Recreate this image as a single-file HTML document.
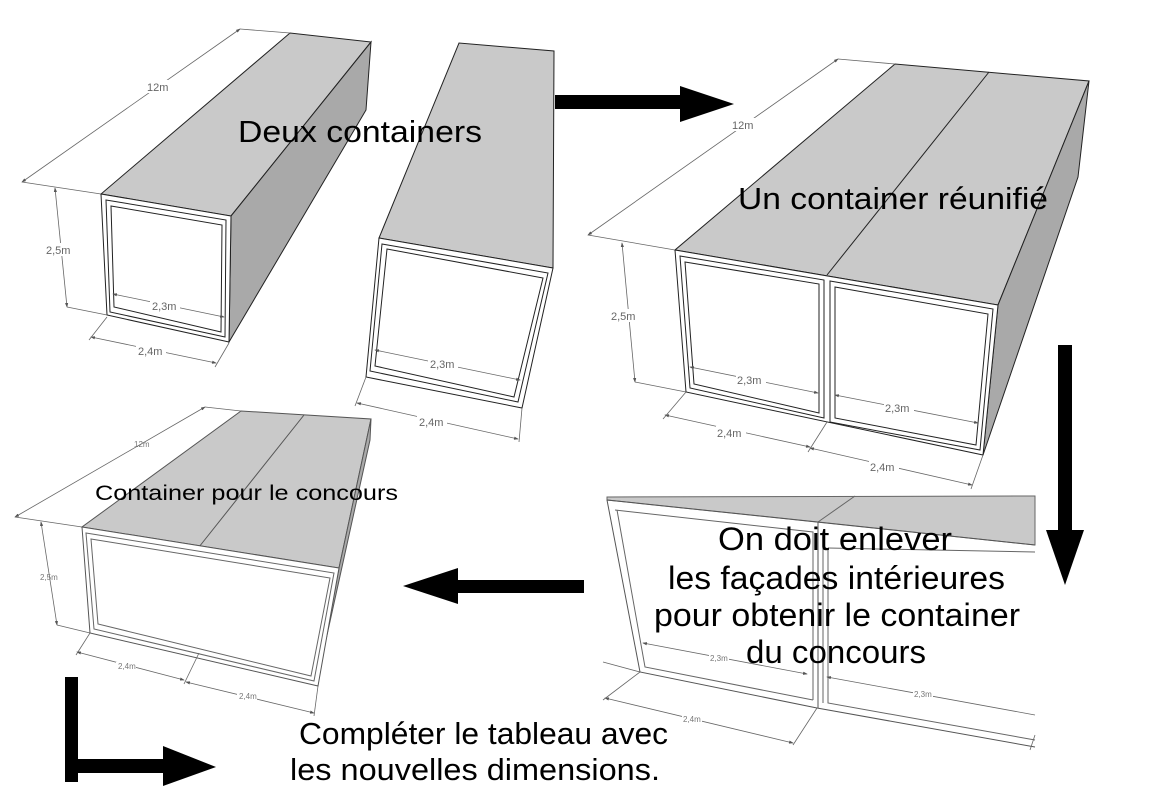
<!DOCTYPE html>
<html><head><meta charset="utf-8"><style>
html,body{margin:0;padding:0;background:#fff;}
svg{display:block;}
.t{font-family:"Liberation Sans",Arial,sans-serif;fill:#000;}
.d{font-family:"Liberation Sans",Arial,sans-serif;fill:#666;font-size:11px;}
.ds{font-family:"Liberation Sans",Arial,sans-serif;fill:#777;font-size:8px;}
</style></head><body>
<svg width="1163" height="796" viewBox="0 0 1163 796" xmlns="http://www.w3.org/2000/svg">
<defs>
<marker id="a" markerWidth="6" markerHeight="6" refX="5" refY="3" orient="auto-start-reverse"><path d="M0,1 L6,3 L0,5 z" fill="#555"/></marker>
</defs>
<g stroke="#222" stroke-width="1">
<polygon points="101,194 231,216 371,42 290,33" fill="#c9c9c9"/>
<polygon points="231,216 371,42 366,110 229,342" fill="#a9a9a9"/>
<polygon points="101,194 231,216 229,342 107,315" fill="#fff"/>
<polygon points="106,200 226,220 225,337 110,312" fill="none"/>
<polygon points="111,206 222,225 221,332 114,307" fill="none"/>
<polygon points="379,238 553,268 554,51 459,43" fill="#c9c9c9"/>
<polygon points="379,238 553,268 522,408 366,377" fill="#fff"/>
<polygon points="382,244 548,273 518,402 370,371" fill="none"/>
<polygon points="387,249 543,278 514,397 375,366" fill="none"/>
<polygon points="675,250 998,305 1089,81 895,64" fill="#c9c9c9"/>
<line x1="827" y1="275" x2="989" y2="72"/>
<polygon points="998,305 1089,81 1078,177 983,455" fill="#a9a9a9"/>
<polygon points="675,250 998,305 983,455 686,392" fill="#fff"/>
<polygon points="680,256 824,280 824,418 690,388" fill="none"/>
<polygon points="685,262 819,284 819,413 694,384" fill="none"/>
<polygon points="830,281 993,309 980,450 830,422" fill="none"/>
<polygon points="835,287 988,314 976,445 835,418" fill="none"/>
<polygon points="82,527 339,568 371,419 241,411" fill="#c9c9c9" stroke="#555"/>
<line x1="199" y1="547" x2="304" y2="415" stroke="#555"/>
<polygon points="339,568 371,419 370,440 316,685" fill="#aaa" stroke="#555"/>
<polygon points="82,527 339,568 318,686 90,633" fill="#fff" stroke="#555"/>
<polygon points="86,533 334,573 314,681 94,629" fill="none" stroke="#666"/>
<polygon points="91,539 330,578 311,676 98,624" fill="none" stroke="#666"/>
<polygon points="607,497 1035,496 1035,545 818,522 607,500" fill="#c9c9c9" stroke="#666"/>
<line x1="818" y1="522" x2="855" y2="496" stroke="#666"/>
<polyline points="607,500 640,672 817,708 1035,747" fill="none" stroke="#555"/>
<polyline points="617,510 645,667 813,700" fill="none" stroke="#666"/>
<polyline points="615,510 813,532 813,700" fill="none" stroke="#666"/>
<line x1="607" y1="500" x2="1035" y2="545" stroke="#555"/>
<line x1="818" y1="522" x2="818" y2="708" stroke="#555"/>
<line x1="823" y1="540" x2="823" y2="703" stroke="#666"/>
<polyline points="828,548 1035,552" fill="none" stroke="#666"/>
<polyline points="828,548 828,703 1035,740" fill="none" stroke="#666"/>
</g>
<g stroke="#666" stroke-width="0.8" fill="none">
<line x1="22" y1="182" x2="240" y2="29" marker-start="url(#a)" marker-end="url(#a)"/>
<line x1="240" y1="29" x2="290" y2="33"/><line x1="22" y1="182" x2="101" y2="194"/>
<line x1="55" y1="188" x2="67" y2="307" marker-start="url(#a)" marker-end="url(#a)"/>
<line x1="67" y1="307" x2="107" y2="315"/>
<line x1="113" y1="294" x2="224" y2="317" marker-start="url(#a)" marker-end="url(#a)"/>
<line x1="91" y1="337" x2="216" y2="363" marker-start="url(#a)" marker-end="url(#a)"/>
<line x1="107" y1="317" x2="89" y2="340"/><line x1="229" y1="343" x2="215" y2="367"/>
<line x1="375" y1="350" x2="520" y2="380" marker-start="url(#a)" marker-end="url(#a)"/>
<line x1="357" y1="403" x2="518" y2="439" marker-start="url(#a)" marker-end="url(#a)"/>
<line x1="366" y1="377" x2="355" y2="406"/><line x1="522" y1="408" x2="519" y2="442"/>
<line x1="588" y1="235" x2="838" y2="59" marker-start="url(#a)" marker-end="url(#a)"/>
<line x1="838" y1="59" x2="895" y2="64"/><line x1="588" y1="235" x2="675" y2="250"/>
<line x1="622" y1="243" x2="635" y2="382" marker-start="url(#a)" marker-end="url(#a)"/>
<line x1="635" y1="382" x2="686" y2="392"/>
<line x1="690" y1="367" x2="818" y2="393" marker-start="url(#a)" marker-end="url(#a)"/>
<line x1="835" y1="395" x2="978" y2="423" marker-start="url(#a)" marker-end="url(#a)"/>
<line x1="665" y1="415" x2="810" y2="447" marker-start="url(#a)" marker-end="url(#a)"/>
<line x1="810" y1="448" x2="972" y2="485" marker-start="url(#a)" marker-end="url(#a)"/>
<line x1="686" y1="392" x2="663" y2="419"/><line x1="827" y1="422" x2="808" y2="452"/>
<line x1="983" y1="455" x2="971" y2="489"/>
<line x1="15" y1="517" x2="205" y2="407" marker-start="url(#a)" marker-end="url(#a)"/>
<line x1="205" y1="407" x2="241" y2="411"/><line x1="15" y1="517" x2="82" y2="527"/>
<line x1="41" y1="522" x2="57" y2="625" marker-start="url(#a)" marker-end="url(#a)"/>
<line x1="57" y1="625" x2="90" y2="633"/>
<line x1="77" y1="652" x2="184" y2="680" marker-start="url(#a)" marker-end="url(#a)"/>
<line x1="186" y1="682" x2="314" y2="713" marker-start="url(#a)" marker-end="url(#a)"/>
<line x1="90" y1="633" x2="76" y2="655"/><line x1="199" y1="653" x2="184" y2="684"/>
<line x1="318" y1="686" x2="314" y2="716"/>
<line x1="643" y1="643" x2="807" y2="674" marker-start="url(#a)" marker-end="url(#a)"/>
<line x1="827" y1="677" x2="1035" y2="715" marker-start="url(#a)"/>
<line x1="605" y1="698" x2="793" y2="743" marker-start="url(#a)" marker-end="url(#a)"/>
<line x1="640" y1="672" x2="603" y2="700"/><line x1="817" y1="708" x2="793" y2="745"/>
<line x1="603" y1="662" x2="640" y2="672"/>
<line x1="1035" y1="735" x2="1030" y2="750"/>
</g>
<g>
<rect x="145" y="80" width="26" height="13" fill="#fff"/><text class="d" x="147" y="91">12m</text>
<rect x="45" y="243" width="26" height="13" fill="#fff"/><text class="d" x="46" y="254">2,5m</text>
<rect x="150" y="299" width="30" height="13" fill="#fff"/><text class="d" x="152" y="310">2,3m</text>
<rect x="136" y="344" width="30" height="13" fill="#fff"/><text class="d" x="138" y="355">2,4m</text>
<rect x="428" y="357" width="30" height="13" fill="#fff"/><text class="d" x="430" y="368">2,3m</text>
<rect x="417" y="415" width="30" height="13" fill="#fff"/><text class="d" x="419" y="426">2,4m</text>
<rect x="730" y="118" width="28" height="13" fill="#fff"/><text class="d" x="732" y="129">12m</text>
<rect x="610" y="309" width="30" height="13" fill="#fff"/><text class="d" x="611" y="320">2,5m</text>
<rect x="736" y="373" width="30" height="13" fill="#fff"/><text class="d" x="737" y="384">2,3m</text>
<rect x="884" y="401" width="30" height="13" fill="#fff"/><text class="d" x="885" y="412">2,3m</text>
<rect x="716" y="426" width="30" height="13" fill="#fff"/><text class="d" x="717" y="437">2,4m</text>
<rect x="869" y="460" width="30" height="13" fill="#fff"/><text class="d" x="870" y="471">2,4m</text>
<text class="ds" x="134" y="447">12m</text>
<text class="ds" x="40" y="580">2,5m</text>
<rect x="116" y="662" width="20" height="9" fill="#fff"/><text class="ds" x="118" y="669">2,4m</text>
<rect x="237" y="692" width="20" height="9" fill="#fff"/><text class="ds" x="239" y="699">2,4m</text>
<rect x="709" y="654" width="20" height="9" fill="#fff"/><text class="ds" x="710" y="661">2,3m</text>
<rect x="913" y="690" width="20" height="9" fill="#fff"/><text class="ds" x="914" y="697">2,3m</text>
<rect x="682" y="715" width="20" height="9" fill="#fff"/><text class="ds" x="683" y="722">2,4m</text>
</g>
<g fill="#000">
<rect x="555" y="95" width="128" height="14"/>
<polygon points="680,86 680,122 734,104"/>
<rect x="1058" y="345" width="14" height="190"/>
<polygon points="1046,530 1084,530 1065,585"/>
<rect x="455" y="580" width="129" height="13"/>
<polygon points="458,568 458,604 403,586"/>
<rect x="65" y="677" width="13" height="105"/>
<rect x="65" y="759" width="100" height="14"/>
<polygon points="163,746 163,786 216,767"/>
</g>
<text class="t" x="238" y="142" font-size="31" textLength="244" lengthAdjust="spacingAndGlyphs">Deux containers</text>
<text class="t" x="738" y="209" font-size="31" textLength="310" lengthAdjust="spacingAndGlyphs">Un container réunifié</text>
<text class="t" x="95" y="500" font-size="21" textLength="303" lengthAdjust="spacingAndGlyphs">Container pour le concours</text>
<g class="t" font-size="32">
<text x="718" y="550" textLength="234" lengthAdjust="spacingAndGlyphs">On doit enlever</text>
<text x="668" y="589" textLength="337" lengthAdjust="spacingAndGlyphs">les façades intérieures</text>
<text x="654" y="626" textLength="366" lengthAdjust="spacingAndGlyphs">pour obtenir le container</text>
<text x="746" y="663" textLength="180" lengthAdjust="spacingAndGlyphs">du concours</text>
</g>
<g class="t" font-size="31">
<text x="299" y="744" textLength="369" lengthAdjust="spacingAndGlyphs">Compléter le tableau avec</text>
<text x="290" y="780" textLength="370" lengthAdjust="spacingAndGlyphs">les nouvelles dimensions.</text>
</g>
</svg>
</body></html>
